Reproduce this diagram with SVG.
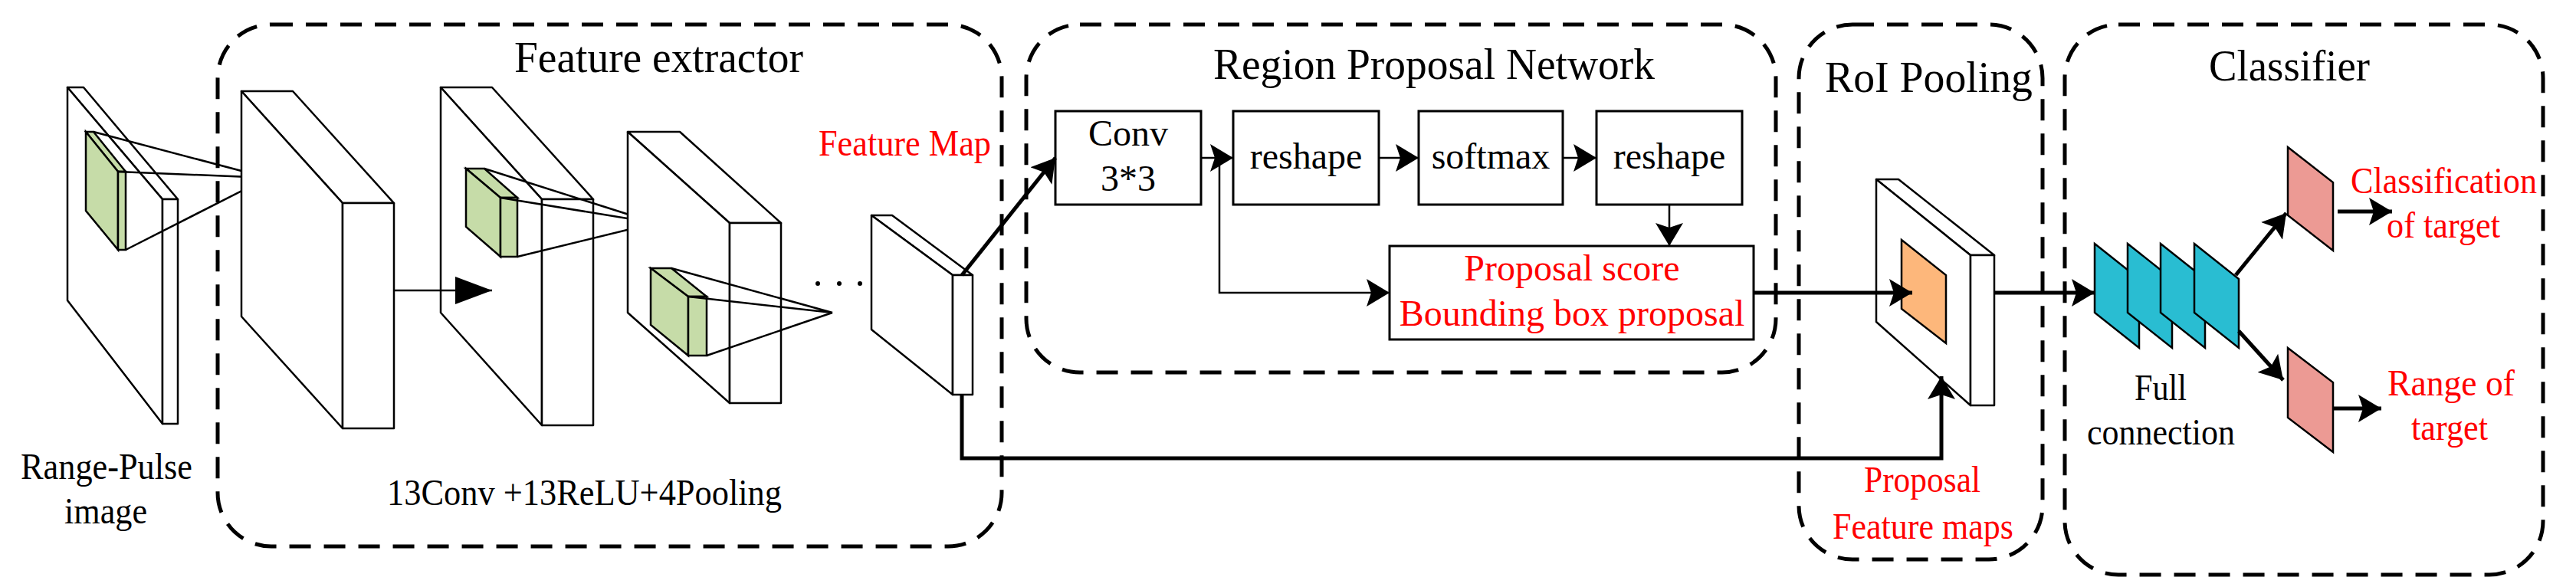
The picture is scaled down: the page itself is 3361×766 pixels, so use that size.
<svg xmlns="http://www.w3.org/2000/svg" width="3361" height="766" viewBox="0 0 3361 766" font-family="'Liberation Serif', 'Times New Roman', 'DejaVu Serif', serif">
<style>
text{font-family:"Liberation Serif","Times New Roman","DejaVu Serif",serif;}
.t{font-size:58px;fill:#000;}
.b{font-size:48px;fill:#000;}
.r{font-size:48px;fill:#f00;}
.dash{fill:none;stroke:#000;stroke-width:5;stroke-dasharray:28 17;}
.f{fill:#fff;stroke:#000;stroke-width:2.5;stroke-linejoin:round;}
.g{fill:#c6dca8;stroke:#000;stroke-width:2.5;}
.l{fill:none;stroke:#000;stroke-width:2.5;}
.k{fill:none;stroke:#000;stroke-width:5;}
.box{fill:#fff;stroke:#000;stroke-width:3;}
.cy{fill:#29bdd2;stroke:#000;stroke-width:2.5;}
.pk{fill:#ec9a94;stroke:#000;stroke-width:2.5;}
</style>
<defs>
<marker id="a" markerUnits="userSpaceOnUse" markerWidth="34" markerHeight="40" refX="30" refY="18" orient="auto"><path d="M0,0 L30,18 L0,36 L6,18 z" fill="#000"/></marker>
<marker id="A" markerUnits="userSpaceOnUse" markerWidth="52" markerHeight="40" refX="48" refY="18" orient="auto"><path d="M0,0 L48,18 L0,36 z" fill="#000"/></marker>
</defs>
<g id="groups">
<rect class="dash" x="284" y="32" width="1023" height="681" rx="70"/>
<rect class="dash" x="1339" y="32" width="978" height="454" rx="70"/>
<rect class="dash" x="2347" y="32" width="318" height="698" rx="70"/>
<rect class="dash" x="2694" y="32" width="624" height="718" rx="70"/>
<text class="t" x="671" y="94" textLength="377" lengthAdjust="spacingAndGlyphs">Feature extractor</text>
<text class="t" x="1583" y="103" textLength="576" lengthAdjust="spacingAndGlyphs">Region Proposal Network</text>
<text class="t" x="2381" y="120" textLength="271" lengthAdjust="spacingAndGlyphs">RoI Pooling</text>
<text class="t" x="2882" y="105" textLength="210" lengthAdjust="spacingAndGlyphs">Classifier</text>
</g>
<g id="input">
<polygon class="f" points="88,114 109,114 232,260 212,260"/>
<polygon class="f" points="88,114 212,260 212,553 88,392"/>
<rect class="f" x="212" y="260" width="20" height="293"/>
<polygon class="g" points="112,172 122,172 164,224 154,224"/>
<polygon class="g" points="112,172 154,224 154,326 112,275"/>
<rect class="g" x="154" y="224" width="10" height="102"/>
<polyline class="l" points="122,172 349,232 154,224"/>
<line class="l" x1="164" y1="326" x2="349" y2="232"/>
<text class="b" x="27" y="625" textLength="224" lengthAdjust="spacingAndGlyphs">Range-Pulse</text>
<text class="b" x="84" y="683" textLength="108" lengthAdjust="spacingAndGlyphs">image</text>
</g>
<g id="conv1">
<polygon class="f" points="315,119 382,119 514,265 447,265"/>
<polygon class="f" points="315,119 447,265 447,559 315,413"/>
<rect class="f" x="447" y="265" width="67" height="294"/>
</g>
<g id="conv2">
<polygon class="f" points="575,114 642,114 774,260 707,260"/>
<polygon class="f" points="575,114 707,260 707,555 575,408"/>
<rect class="f" x="707" y="260" width="67" height="295"/>
<polygon class="g" points="608,220 632,220 675,258 653,258"/>
<polygon class="g" points="608,220 653,258 653,335 608,296"/>
<rect class="g" x="653" y="258" width="22" height="77"/>
<polyline class="l" points="632,220 855,291 653,258"/>
<line class="l" x1="675" y1="335" x2="855" y2="291"/>
</g>
<g id="conv3">
<polygon class="f" points="819,172 887,172 1019,291 952,291"/>
<polygon class="f" points="819,172 952,291 952,526 819,408"/>
<rect class="f" x="952" y="291" width="67" height="235"/>
<polygon class="g" points="849,350 876,350 922,387 898,387"/>
<polygon class="g" points="849,350 898,387 898,464 849,424"/>
<rect class="g" x="898" y="387" width="24" height="77"/>
<polyline class="l" points="876,350 1086,408 898,387"/>
<line class="l" x1="922" y1="464" x2="1086" y2="408"/>
<circle cx="1067" cy="370" r="3"/><circle cx="1095" cy="370" r="3"/><circle cx="1122" cy="370" r="3"/>
<text class="b" x="505" y="659" textLength="515" lengthAdjust="spacingAndGlyphs">13Conv +13ReLU+4Pooling</text>
</g>
<g id="featuremap">
<polygon class="f" points="1137,281 1164,281 1269,359 1243,359"/>
<polygon class="f" points="1137,281 1243,359 1243,515 1137,430"/>
<rect class="f" x="1243" y="359" width="26" height="156"/>
<text class="r" x="1068" y="203" textLength="225" lengthAdjust="spacingAndGlyphs">Feature Map</text>
</g>
<g id="rpn">
<rect class="box" x="1377" y="145" width="190" height="122"/>
<text class="b" x="1472" y="190" text-anchor="middle">Conv</text>
<text class="b" x="1472" y="249" text-anchor="middle">3*3</text>
<rect class="box" x="1609" y="145" width="190" height="122"/>
<text class="b" x="1704" y="220" text-anchor="middle">reshape</text>
<rect class="box" x="1851" y="145" width="188" height="122"/>
<text class="b" x="1945" y="220" text-anchor="middle">softmax</text>
<rect class="box" x="2083" y="145" width="190" height="122"/>
<text class="b" x="2178" y="220" text-anchor="middle">reshape</text>
<rect class="box" x="1813" y="321" width="475" height="122"/>
<text class="r" x="2051" y="366" text-anchor="middle">Proposal score</text>
<text class="r" x="2051" y="425" text-anchor="middle">Bounding box proposal</text>
</g>
<g id="roi">
<polygon class="f" points="2448,234 2477,234 2602,333 2571,333"/>
<polygon class="f" points="2448,234 2571,333 2571,529 2448,420"/>
<rect class="f" x="2571" y="333" width="31" height="196"/>
<polygon points="2481,313 2539,359 2539,448 2481,403" fill="#fdb77b" stroke="#000" stroke-width="2.5"/>
<text class="r" x="2432" y="642" textLength="152" lengthAdjust="spacingAndGlyphs">Proposal</text>
<text class="r" x="2391" y="703" textLength="236" lengthAdjust="spacingAndGlyphs">Feature maps</text>
</g>
<g id="fc">
<polygon class="cy" points="2733,318 2791,364 2791,454 2733,408"/>
<polygon class="cy" points="2776,318 2834,364 2834,454 2776,408"/>
<polygon class="cy" points="2819,318 2877,364 2877,454 2819,408"/>
<polygon class="cy" points="2863,318 2921,364 2921,454 2863,408"/>
<text class="b" x="2785" y="522" textLength="68" lengthAdjust="spacingAndGlyphs">Full</text>
<text class="b" x="2723" y="580" textLength="193" lengthAdjust="spacingAndGlyphs">connection</text>
</g>
<g id="outputs">
<polygon class="pk" points="2985,192 3044,238 3044,327 2985,281"/>
<polygon class="pk" points="2985,454 3044,499 3044,590 2985,545"/>
<text class="r" x="3067" y="252" textLength="243" lengthAdjust="spacingAndGlyphs">Classification</text>
<text class="r" x="3114" y="310" textLength="148" lengthAdjust="spacingAndGlyphs">of target</text>
<text class="r" x="3115" y="516" textLength="166" lengthAdjust="spacingAndGlyphs">Range of</text>
<text class="r" x="3146" y="574" textLength="100" lengthAdjust="spacingAndGlyphs">target</text>
</g>
<g id="connectors">
<line class="l" x1="514" y1="379" x2="642" y2="379" marker-end="url(#A)"/>
<line class="k" x1="1255" y1="359" x2="1377" y2="206" marker-end="url(#a)"/>
<polyline class="k" points="1255,515 1255,598 2533,598 2533,491" marker-end="url(#a)"/>
<line class="l" x1="1567" y1="206" x2="1609" y2="206" marker-end="url(#a)"/>
<line class="l" x1="1799" y1="206" x2="1851" y2="206" marker-end="url(#a)"/>
<line class="l" x1="2039" y1="206" x2="2083" y2="206" marker-end="url(#a)"/>
<polyline class="l" points="1591,206 1591,382 1813,382" marker-end="url(#a)"/>
<line class="l" x1="2178" y1="267" x2="2178" y2="321" marker-end="url(#a)"/>
<line class="k" x1="2288" y1="382" x2="2495" y2="382" marker-end="url(#a)"/>
<line class="k" x1="2602" y1="382" x2="2733" y2="382" marker-end="url(#a)"/>
<line class="k" x1="2917" y1="359" x2="2983" y2="278" marker-end="url(#a)"/>
<line class="k" x1="2921" y1="432" x2="2979" y2="496" marker-end="url(#a)"/>
<line class="k" x1="3050" y1="276" x2="3121" y2="276" marker-end="url(#a)"/>
<line class="k" x1="3043" y1="533" x2="3107" y2="533" marker-end="url(#a)"/>
</g>
</svg>
